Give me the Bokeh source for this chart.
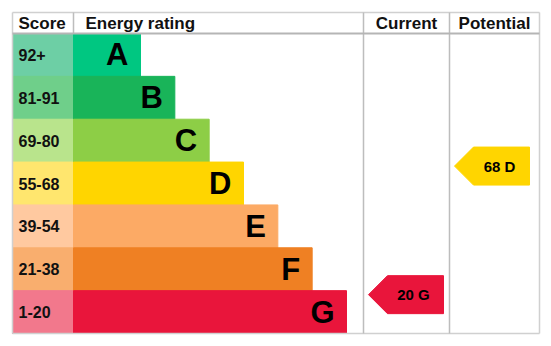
from bokeh.plotting import figure
from bokeh.models import Range1d, ColumnDataSource
from bokeh.core.properties import value
from bokeh.embed import file_html
from bokeh.resources import INLINE

# ---- data ----
bands = ["A", "B", "C", "D", "E", "F", "G"]
score_labels = ["92+", "81-91", "69-80", "55-68", "39-54", "21-38", "1-20"]
band_lo = [92, 81, 69, 55, 39, 21, 1]
band_hi = [100, 91, 80, 68, 54, 38, 20]
bar_colors = ["#00c781", "#19b459", "#8dce46", "#ffd500", "#fcaa65", "#ef8023", "#e9153b"]
score_colors = ["#6dcfa5", "#6fcf8a", "#b9e48c", "#ffe66e", "#ffc9a0", "#f9ae6e", "#f2788c"]
headers = ["Score", "Energy rating", "Current", "Potential"]
current_score, current_band = 20, "G"
potential_score, potential_band = 68, "D"

# ---- layout (pixels) ----
W, H = 551, 346
L, R, T, B = 12, 539, 12, 333
HEAD_B = 33
COL_SCORE_R = 73
COL_ENERGY_R = 363
COL_CUR_R = 449
ROW_H = (B - HEAD_B) / len(bands)
BAR_BASE = 67
BAR_STEP = (346 - 140) / 6

FONT = value("Liberation Sans")

p = figure(width=W, height=H, x_range=Range1d(0, W), y_range=Range1d(H, 0),
           output_backend="svg", toolbar_location=None, min_border=0,
           outline_line_color=None, background_fill_color="white",
           border_fill_color="white")
p.axis.visible = False
p.grid.visible = False
p.min_border_left = p.min_border_right = p.min_border_top = p.min_border_bottom = 0

tops = [HEAD_B + i * ROW_H for i in range(len(bands))]
bots = [t + ROW_H for t in tops]
mids = [t + ROW_H / 2 for t in tops]
bar_right = [COL_SCORE_R + BAR_BASE + BAR_STEP * i for i in range(len(bands))]

src = ColumnDataSource(dict(top=tops, bottom=bots, mid=mids, right=bar_right,
                            band=bands, score=score_labels,
                            bar_color=bar_colors, score_color=score_colors,
                            letter_x=[r - 12 for r in bar_right]))

# score cells
p.quad(left=L, right=COL_SCORE_R, top="top", bottom="bottom", fill_color="score_color",
       line_color="score_color", line_width=1, source=src)
# bars
p.quad(left=COL_SCORE_R, right="right", top="top", bottom="bottom", fill_color="bar_color",
       line_color="bar_color", line_width=1, source=src)

p.text(x=18, y="mid", text="score", source=src, text_font=FONT, text_font_style="bold",
       text_font_size="16px", text_baseline="middle", text_align="left", text_color="#111111")
p.text(x="letter_x", y="mid", text="band", source=src, text_font=FONT, text_font_style="bold",
       text_font_size="31px", text_baseline="middle", text_align="right", text_color="#000000")

# grid / frame lines
p.segment(x0=[L, L, R, L], y0=[T, B, T, T], x1=[R, R, R, L], y1=[T, B, B, B],
          line_color="#d0d0d0", line_width=1.5)
p.segment(x0=[COL_SCORE_R, COL_ENERGY_R, COL_CUR_R], y0=[T, T, T],
          x1=[COL_SCORE_R, COL_ENERGY_R, COL_CUR_R], y1=[HEAD_B, B, B],
          line_color="#bdbdbd", line_width=1.5)
p.segment(x0=L, y0=HEAD_B, x1=R, y1=HEAD_B, line_color="#b5b5b5", line_width=2)

# headers
hx = [18, 85, (COL_ENERGY_R + COL_CUR_R) / 2, (COL_CUR_R + R) / 2]
ha = ["left", "left", "center", "center"]
p.text(x=hx, y=[(T + HEAD_B) / 2 + 0.5] * 4, text=headers, text_align=ha, text_font=FONT,
       text_font_style="bold", text_font_size="17px", text_baseline="middle", text_color="#111111")

# arrows
def arrow(score, band, col_left):
    i = bands.index(band)
    cy = tops[i] + 4 + (band_hi[i] - score) / (band_hi[i] - band_lo[i] + 1) * ROW_H
    tip = col_left + 5
    notch = tip + 19
    right = tip + 75
    hh = 19
    xs = [tip, notch, right, right, notch]
    ys = [cy, cy - hh, cy - hh, cy + hh, cy + hh]
    p.patch(xs, ys, fill_color=bar_colors[i], line_color=bar_colors[i])
    p.text(x=[(notch + right) / 2 - 2], y=[cy], text=[f"{score} {band}"], text_font=FONT,
           text_font_style="bold", text_font_size="15px", text_align="center",
           text_baseline="middle", text_color="#000000")

arrow(current_score, current_band, COL_ENERGY_R)
arrow(potential_score, potential_band, COL_CUR_R)

open("out.html", "w").write(file_html(p, INLINE))
